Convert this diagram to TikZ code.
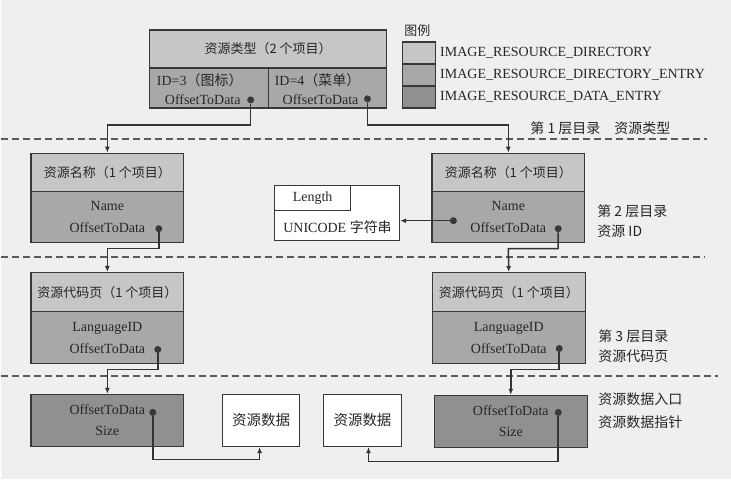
\documentclass[tikz,border=0pt]{standalone}
\usepackage{fontspec}
\setmainfont{Liberation Serif}
\newfontfamily\cjk{Noto Sans CJK SC}
\usetikzlibrary{positioning,arrows.meta}
\definecolor{bgc}{HTML}{EFEFEF}
\definecolor{dirc}{HTML}{C6C6C6}
\definecolor{entc}{HTML}{A8A8A8}
\definecolor{datc}{HTML}{909090}

\begin{document}
\begin{tikzpicture}[x=1pt,y=-1pt,>={Latex[length=6pt,width=5pt]},
    frame/.style={draw=black!78,line width=1.3pt,inner sep=0pt,text=black!85},
    dirbox/.style={frame,fill=dirc,minimum width=153pt,minimum height=39pt,font=\cjk\fontsize{13}{15}\selectfont},
    entbox/.style={frame,fill=entc,minimum width=153pt,minimum height=51pt,align=center,font=\fontsize{14}{22}\selectfont},
    datbox/.style={frame,fill=datc,minimum width=153pt,minimum height=52pt,align=center,font=\fontsize{14}{21}\selectfont},
    rawbox/.style={frame,fill=white,minimum width=77pt,minimum height=52pt,font=\cjk\fontsize{14.5}{16}\selectfont},
    ptr/.style={circle,fill=black!78,inner sep=0pt,minimum size=7pt},
    txt/.style={inner sep=0pt,text=black!85,font=\fontsize{14}{16}\selectfont},
    note/.style={inner sep=0pt,text=black!85,anchor=west,align=left,font=\cjk\fontsize{14}{20}\selectfont},
    layer/.style={draw=black!65,line width=2pt,dash pattern=on 7pt off 4pt},
    link/.style={->,draw=black!80,line width=1.5pt}]
    \fill[bgc] (0,0) rectangle (731,480);

    \node[dirbox,minimum width=237pt,minimum height=38pt] (rt) at (267.5,49) {资源类型（2 个项目）};
    \node[entbox,minimum width=119pt,minimum height=40pt] (id3) at (208.5,88) {};
    \node[entbox,minimum width=118pt,minimum height=40pt] (id4) at (327,88) {};
    \node[txt,anchor=west] (id3t) at (156,80) {ID=3{\cjk（图标）}};
    \node[txt] (of3) at (202,100) {OffsetToData};
    \node[txt,anchor=west] (id4t) at (274,80) {ID=4{\cjk（菜单）}};
    \node[txt] (of4) at (320,100) {OffsetToData};
    \node[ptr] (p3) at (250,100) {};
    \node[ptr] (p4) at (367,99) {};

    \node[txt,font=\cjk\fontsize{13}{15}\selectfont] (lg) at (417,31) {图例};
    \node[frame,fill=dirc,minimum width=33pt,minimum height=22pt] (lg1) at (418.5,53) {};
    \node[frame,fill=entc,minimum width=33pt,minimum height=22pt] (lg2) at (418.5,75) {};
    \node[frame,fill=datc,minimum width=33pt,minimum height=22pt] (lg3) at (418.5,97) {};
    \node[txt,anchor=west,right=4pt of lg1] (lg1t) {IMAGE\_RESOURCE\_DIRECTORY};
    \node[txt,anchor=west,right=4pt of lg2] (lg2t) {IMAGE\_RESOURCE\_DIRECTORY\_ENTRY};
    \node[txt,anchor=west,right=4pt of lg3] (lg3t) {IMAGE\_RESOURCE\_DATA\_ENTRY};

    \draw[layer] (0,139) -- (707,139);
    \node[note] (l1) at (530,128) {第 1 层目录\hspace{1em}资源类型};

    \node[dirbox] (na) at (106.5,173) {资源名称（1 个项目）};
    \node[entbox] (na2) at (106.5,217.5) {Name\\OffsetToData};
    \node[ptr] (pa) at (158,229) {};
    \node[dirbox] (nb) at (508,173) {资源名称（1 个项目）};
    \node[entbox] (nb2) at (508,217.5) {Name\\OffsetToData};
    \node[ptr] (pn) at (453,221) {};
    \node[ptr] (pb) at (558,229) {};
    \node[note] (l2) at (597,221.5) {第 2 层目录\\资源 ID};

    \node[frame,fill=white,minimum width=125pt,minimum height=55pt] (str) at (336.5,213.5) {};
    \node[frame,fill=white,minimum width=76pt,minimum height=25pt,font=\fontsize{14}{16}\selectfont] (len) at (312,198.5) {Length};
    \node[txt] (strt) at (337,227) {UNICODE {\cjk 字符串}};

    \coordinate (k1) at (106.5,125);
    \coordinate (k2) at (508,125);
    \draw[link] (p3) |- (k1) -- (na.north);
    \draw[link] (p4) |- (k2) -- (nb.north);
    \draw[link] (pn) -- (pn -| str.east);

    \draw[layer] (0,257) -- (705,257);

    \node[dirbox] (nc) at (106.5,292.5) {资源代码页（1 个项目）};
    \node[entbox,minimum height=52pt] (nc2) at (106.5,338) {LanguageID\\OffsetToData};
    \node[ptr] (pc) at (157,350) {};
    \node[dirbox] (nd) at (508.5,292.5) {资源代码页（1 个项目）};
    \node[entbox,minimum height=52pt] (nd2) at (508.5,338) {LanguageID\\OffsetToData};
    \node[ptr] (pd) at (559,349) {};
    \node[note] (l3) at (598,347) {第 3 层目录\\资源代码页};

    \coordinate (k3) at (106.5,249);
    \coordinate (k4) at (508,249);
    \draw[link] (pa) |- (k3) -- (nc.north);
    \draw[link] (pb) |- (k4) -- (nd.north);

    \draw[layer] (0,377) -- (718,377);

    \node[datbox] (ne) at (106.5,421) {OffsetToData\\Size};
    \node[ptr] (pe) at (152,413) {};
    \node[rawbox] (da) at (260.5,421) {资源数据};
    \node[rawbox,minimum width=78pt] (db) at (362,421) {资源数据};
    \node[datbox] (nf) at (510.5,422) {OffsetToData\\Size};
    \node[ptr] (pf) at (558,413) {};
    \node[note,font=\cjk\fontsize{14}{23}\selectfont] (l4) at (598,411.5) {资源数据入口\\资源数据指针};

    \coordinate (k5) at (106.5,370);
    \coordinate (k6) at (510.5,370);
    \draw[link] (pc) |- (k5) -- (ne.north);
    \draw[link] (pd) |- (k6) -- (nf.north);

    \coordinate (k7) at (259,460);
    \coordinate (k8) at (368,462);
    \draw[link] (pe) |- (k7) -- (k7 |- da.south);
    \draw[link] (pf) |- (k8) -- (k8 |- db.south);
\end{tikzpicture}
\end{document}
